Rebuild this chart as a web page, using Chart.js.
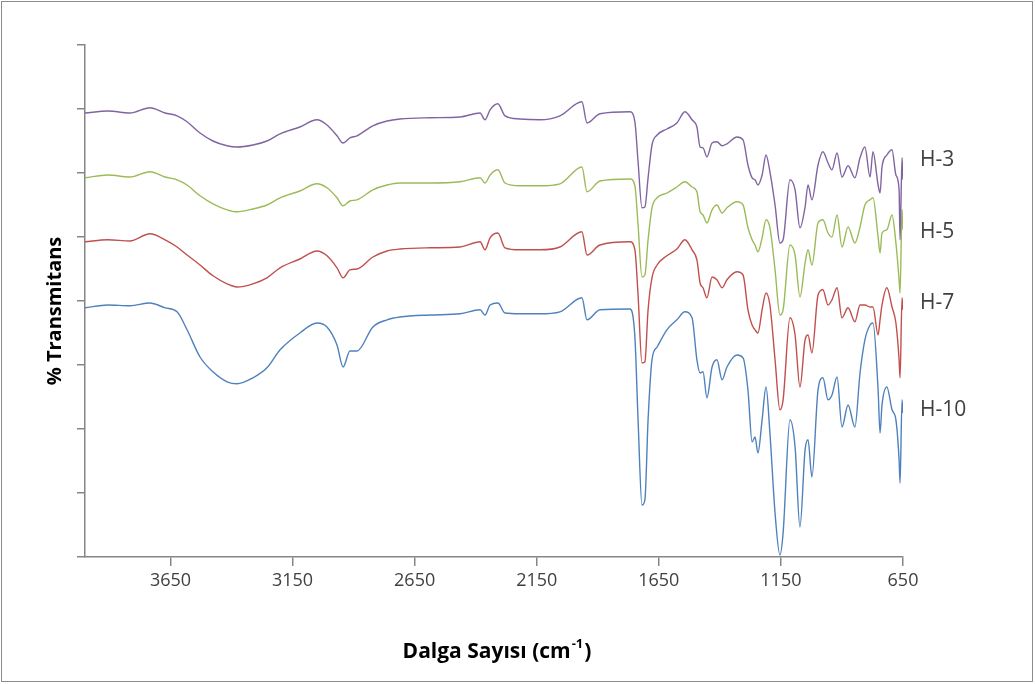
<!DOCTYPE html>
<html>
<head>
<meta charset="utf-8">
<script src="https://cdn.jsdelivr.net/npm/chart.js@4"></script>
<style>
  body { margin: 0; background: #fff; }
  canvas { display: block; }
</style>
</head>
<body>
<canvas id="c" width="1035" height="684"></canvas>
<script>
// wavenumber grid (cm-1), shared by all spectra
const wavenumbers = [4000,3906,3816,3734,3672,3623,3582,3529,3476,3418,
  3378,3312,3255,3201,3120,3050,3009,2968,2943,2915,
  2886,2821,2763,2710,2587,2464,2382,2362,2341,2309,
  2280,2219,2137,2055,1965,1944,1891,1768,1748,1735,
  1719,1707,1694,1678,1657,1617,1576,1543,1514,1494,
  1481,1469,1453,1432,1412,1391,1371,1330,1305,1285,
  1268,1256,1244,1227,1211,1195,1174,1154,1141,1113,
  1092,1072,1051,1039,1023,998,978,957,941,920,
  900,875,847,826,806,785,773,752,744,736,
  716,695,679,666,662,654,650];

// stacked transmittance (offset, arbitrary units)
const h3 = [111,111.5,111,112.3,111,110.3,108.8,106,104,102.8,
  102.5,103,104,105.8,107.5,109.3,108,105.3,103.5,104.8,
  105.3,107.8,109,109.5,109.8,110,111,109.3,111.8,113.3,
  110.3,109.5,109.3,110.3,113.8,108.5,110.8,111.3,108.8,98.8,
  87.3,87.5,94.8,103,105.5,107,108.5,111.3,109.3,107.5,
  102.5,102.3,100,103.5,103.8,102.8,103.3,105,104.3,98,
  94.8,94.3,93,95.5,100.5,96.3,88,78.5,79.3,94.3,
  91.8,82.3,87.5,93,89.3,98,101.3,98.5,96.8,101,
  95,97.8,94.8,99.8,102.5,95,101.3,93,91,97.5,
  100.5,101.8,95.5,91.8,79.3,99.8,94.3];

const h5 = [94.8,95.5,95,96.3,95,94.3,93,90.3,88.3,86.8,
  86.3,87,88,89.8,91.5,93.3,92.3,89.8,87.8,89,
  89.3,91.8,93,93.5,93.5,93.8,94.8,93.5,95.5,96.8,
  93.5,92.8,92.8,93.3,97.5,91.3,94,94.5,92.8,83,
  70,70.5,79.3,87.3,89.8,91,92.5,93.8,92.5,91.3,
  86.3,85.5,83.5,86.8,88,86,87.3,88.8,88,82.3,
  79.3,78,76.3,79.8,84.3,82.3,71.8,60.5,61.8,78,
  75.5,65,73.5,76.8,73,83.5,84.3,81,80,85.5,
  77.5,82.5,78.5,82.5,88,89.3,89.8,80,76,81,
  81.8,85.5,78.5,69.3,66,86.8,81.8];

const h7 = [78.8,79.3,79,80.8,79.3,77.5,75.5,73,70.3,68.3,
  67.5,68.3,69.8,72.3,74.5,76.5,75.3,72.3,69.8,71.8,
  72,75,76.5,77,77.3,77.5,78.8,76.8,79.8,81,
  77.3,76.8,76.8,77.5,81.3,75.5,78,78.8,76.8,65.5,
  48.5,48.8,61.8,69.8,73,75.3,77,79.3,76.8,74.3,
  68.5,67.3,64.8,70,69.3,67.3,69.3,71.3,70.5,61.8,
  58,56.8,56,61.8,66,63,49.3,36.8,39.3,59.8,
  55.5,42.5,54.3,55.5,51,65.5,66.8,63,64.3,67.3,
  59.8,62.3,58.8,63,63,62.5,62.5,55.5,59.3,63,
  67.3,62.5,58.5,49.3,44.8,64.8,61.8];

const h10 = [62.3,63,62.8,63.5,62.3,61.3,56.8,50,46.3,43.8,
  43.3,44.8,47.3,51.8,56,58.5,57.5,53,47.5,51.5,
  51.5,57.5,59.3,60,60.5,60.8,61.8,60.5,63,63.5,
  61,60.8,60.8,61.3,64.8,59.3,61.8,62,55,34.3,
  13,14.3,34.3,49.3,52.5,56.8,59.3,61.3,59.8,49.3,
  46,46.3,39.8,47.5,49.3,44.3,47.5,50.5,49.8,41.8,
  28.8,30,26,34.3,42.5,31,11,0.5,6,34.3,
  27.5,7.5,26.8,29.3,20,41.8,44.8,39.3,40.5,45,
  32.5,38,32.5,46,54.3,58,58.5,41.8,31,38,
  42.5,36.8,34.3,24.3,18.5,39.3,36];

const seriesNames = ["H-3", "H-5", "H-7", "H-10"];
const seriesColors = ["#8064A2", "#9BBB59", "#C0504D", "#4F81BD"];
const labelLevels = [99.3, 81.3, 63.5, 36.8];
const xTicks = [650, 1150, 1650, 2150, 2650, 3150, 3650];

const axisGrey = "#868686";
const textColor = "#404040";

function toPoints(vals) {
  return wavenumbers.map((w, i) => ({ x: w, y: vals[i] }));
}

// titles, curve labels and frame
const overlay = {
  id: "overlay",
  afterDraw(chart) {
    const { ctx, chartArea, scales } = chart;
    ctx.save();
    ctx.strokeStyle = "#8c8c8c";
    ctx.lineWidth = 1;
    ctx.strokeRect(1.5, 1.5, 1031, 680);

    ctx.fillStyle = textColor;
    ctx.textBaseline = "middle";
    ctx.textAlign = "left";
    ctx.font = '21px "Open Sans"';
    seriesNames.forEach((n, i) => {
      ctx.fillText(n, chartArea.right + 17, scales.y.getPixelForValue(labelLevels[i]));
    });

    // x title with superscript
    ctx.fillStyle = "#000";
    const big = 'bold 21px "Open Sans"';
    const small = 'bold 13px "Open Sans"';
    const p1 = "Dalga Sayısı (cm", p2 = "-1", p3 = ")";
    ctx.font = big;
    const w1 = ctx.measureText(p1).width, w3 = ctx.measureText(p3).width;
    ctx.font = small;
    const w2 = ctx.measureText(p2).width;
    let x = 496 - (w1 + w2 + w3) / 2;
    const ty = 652;
    ctx.font = big; ctx.fillText(p1, x, ty); x += w1;
    ctx.font = small; ctx.fillText(p2, x + 1, ty - 8); x += w2 + 2;
    ctx.font = big; ctx.fillText(p3, x, ty);

    // y title
    ctx.translate(55, 311);
    ctx.rotate(-Math.PI / 2);
    ctx.textAlign = "center";
    ctx.font = 'bold 20px "Open Sans"';
    ctx.fillText("% Transmitans", 0, 0);
    ctx.restore();
  }
};

new Chart(document.getElementById("c"), {
  type: "line",
  data: {
    datasets: [h3, h5, h7, h10].map((vals, i) => ({
      label: seriesNames[i],
      data: toPoints(vals),
      borderColor: seriesColors[i],
      borderWidth: 1.4,
      pointRadius: 0,
      fill: false,
      cubicInterpolationMode: "monotone"
    }))
  },
  options: {
    responsive: false,
    animation: false,
    devicePixelRatio: 1,
    layout: { padding: { left: 0, right: 132, top: 45, bottom: 0 } },
    plugins: { legend: { display: false }, tooltip: { enabled: false } },
    scales: {
      x: {
        type: "linear",
        reverse: true,
        min: 650,
        max: 4000,
        afterFit: s => { s.height = 127; },
        afterBuildTicks: s => { s.ticks = xTicks.map(v => ({ value: v })); },
        border: { color: axisGrey, width: 1.5 },
        grid: { drawOnChartArea: false, color: axisGrey, tickLength: 9, lineWidth: 1.5 },
        ticks: {
          color: textColor,
          font: { family: "Open Sans", size: 18 },
          padding: 4,
          maxRotation: 0,
          callback: v => String(v)
        }
      },
      y: {
        min: 0,
        max: 128,
        afterFit: s => { s.width = 85; },
        ticks: { stepSize: 16, display: false },
        border: { color: axisGrey, width: 1.5 },
        grid: { drawOnChartArea: false, color: axisGrey, tickLength: 8, lineWidth: 1.5 }
      }
    }
  },
  plugins: [overlay]
});
</script>
</body>
</html>
